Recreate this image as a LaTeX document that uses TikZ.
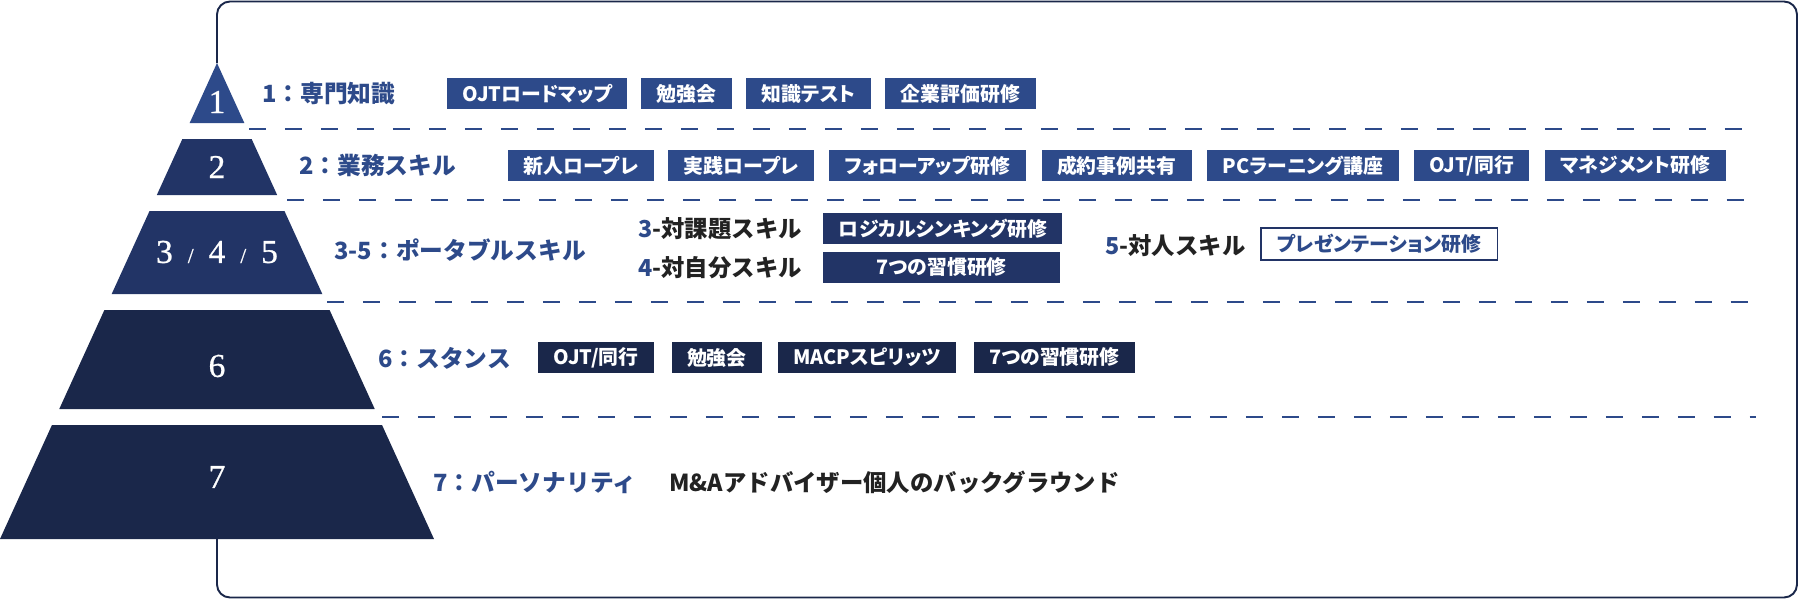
\documentclass[tikz,border=0pt]{standalone}
\usepackage{fontspec}
\setmainfont{Noto Sans CJK JP}
\newfontfamily\tagfont{Noto Sans CJK JP}[RawFeature=+palt]
\newfontfamily\numfont{Liberation Serif}[FakeBold=0.8]
\usetikzlibrary{positioning, calc}
\definecolor{cblue}{HTML}{2D4A8A}
\definecolor{cnavy}{HTML}{223466}
\definecolor{cdark}{HTML}{1A274A}
\definecolor{cink}{HTML}{222222}
\newcommand{\numsl}{\hspace{0.3cm}{\fontsize{12pt}{12pt}\selectfont /}\hspace{0.3cm}}
\tikzset{
  every picture/.style={x=0.02cm, y=-0.02cm},
  lvl/.style={font=\bfseries\fontsize{13.5pt}{16pt}\selectfont, text=cblue, anchor=west, inner sep=0pt},
  skill/.style={font=\bfseries\fontsize{13.3pt}{16pt}\selectfont, text=cink, anchor=west, inner sep=0pt},
  tag/.style={fill=#1, text=white, font=\tagfont\bfseries\fontsize{11.3pt}{13pt}\selectfont, minimum height=0.62cm, inner xsep=0.31cm, inner ysep=0pt},
  tag/.default=cblue,
  pyr/.style={text=white, font=\numfont\fontsize{19pt}{20pt}\selectfont, inner sep=0pt},
  dashsep/.style={draw=cblue, line width=1.1pt, dash pattern=on 0.34cm off 0.38cm},
  outline/.style={draw=cdark, line width=1.1pt, rounded corners=0.26cm},
}

\begin{document}
\begin{tikzpicture}
  \useasboundingbox (0,0) rectangle (1800,600);
  \coordinate (apex) at (217,63);
  \coordinate (base) at (217,539);

  % pyramid, sides run from the apex to (0,539) and (434,539)
  \foreach \ya/\yb/\col in {63/123/cblue, 139/195/cnavy, 211/294/cnavy, 310/409/cdark, 425/539/cdark}{
    \pgfmathsetmacro\xa{0.45588*(539-\ya)}
    \pgfmathsetmacro\xb{0.45588*(539-\yb)}
    \fill[\col] (\xa,\ya) -- (\xb,\yb) -- ({434-\xb},\yb) -- ({434-\xa},\ya) -- cycle;
  }
  \node[pyr] (n1) at (217,102) {1};
  \node[pyr] (n2) at (217,167) {2};
  \node[pyr] (n3) at (217,252) {3\numsl4\numsl5};
  \node[pyr] (n6) at (217,366) {6};
  \node[pyr] (n7) at (217,477) {7};

  \draw[outline] (apex) -- (217,1.5) -- (1797,1.5) -- (1797,597.5) -- (217,597.5) -- (base);

  \draw[dashsep] (249,129) -- (1756,129);
  \draw[dashsep] (287,200) -- (1756,200);
  \draw[dashsep] (327,302) -- (1756,302);
  \draw[dashsep] (382,417) -- (1756,417);

  % 1
  \node[lvl] (l1) at (262,94) {1：専門知識};
  \node[tag, anchor=west] (t11) at (447,93.5) {OJTロードマップ};
  \node[tag, right=0.26cm of t11] (t12) {勉強会};
  \node[tag, right=0.28cm of t12] (t13) {知識テスト};
  \node[tag, right=0.28cm of t13] (t14) {企業評価研修};
  % 2
  \node[lvl] (l2) at (299,165) {2：業務スキル};
  \node[tag, anchor=west] (t21) at (507.6,165.5) {新人ロープレ};
  \node[tag, right=0.28cm of t21] (t22) {実践ロープレ};
  \node[tag, right=0.28cm of t22] (t23) {フォローアップ研修};
  \node[tag, right=0.3cm of t23] (t24) {成約事例共有};
  \node[tag, right=0.3cm of t24] (t25) {PCラーニング講座};
  \node[tag, right=0.29cm of t25] (t26) {OJT/同行};
  \node[tag, right=0.3cm of t26] (t27) {マネジメント研修};
  % 3-5
  \node[lvl] (l3) at (334,250) {3-5：ポータブルスキル};
  \node[skill] (s3) at (638,229) {{\color{cblue}3}-対課題スキル};
  \node[tag=cnavy, anchor=west, minimum width=4.74cm] (t31) at (823,228.5) {ロジカルシンキング研修};
  \node[skill] (s4) at (638,268) {{\color{cblue}4}-対自分スキル};
  \node[tag=cnavy, anchor=west, minimum width=4.74cm] (t41) at (823,267.5) {7つの習慣研修};
  \node[skill] (s5) at (1105,246) {{\color{cblue}5}-対人スキル};
  \node[tag=white, text=cblue, draw=cnavy, line width=0.85pt, anchor=west, minimum width=4.74cm, minimum height=0.64cm] (t51) at (1260,244) {プレゼンテーション研修};
  % 6
  \node[lvl] (l6) at (378,358) {6：スタンス};
  \node[tag=cdark, anchor=west] (t61) at (538,357.5) {OJT/同行};
  \node[tag=cdark, right=0.34cm of t61] (t62) {勉強会};
  \node[tag=cdark, right=0.3cm of t62] (t63) {MACPスピリッツ};
  \node[tag=cdark, right=0.34cm of t63] (t64) {7つの習慣研修};
  % 7
  \node[lvl] (l7) at (433,482) {7：パーソナリティ};
  \node[skill] (s7) at (669,482) {M\&Aアドバイザー個人のバックグラウンド};
\end{tikzpicture}
\end{document}
